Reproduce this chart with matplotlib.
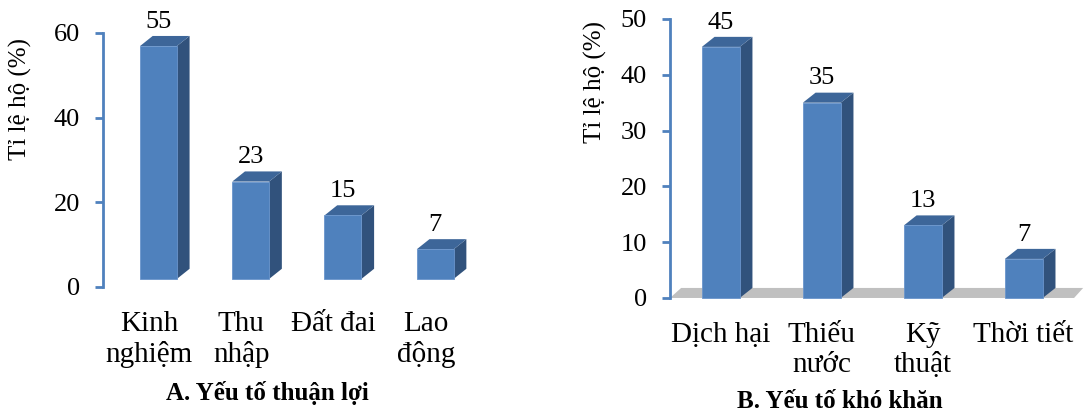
"""
Bar charts of factors affecting households: favourable (A) and difficult (B).
Bars are drawn as pseudo-3D blocks (front, side and top faces).
"""
from matplotlib import pyplot as plt
from matplotlib.patches import Polygon

FS = 19        # ticks and value labels
FS_CAT = 21    # category names
FS_TITLE = 18  # axis titles
plt.rcParams['font.family'] = ['Liberation Serif', 'DejaVu Serif']
plt.rcParams['font.size'] = FS

LABELS_A = ["Kinh\nnghiệm", "Thu\nnhập", "Đất đai", "Lao\nđộng"]
VALUES_A = [55, 23, 15, 7]
TICKS_A = [0, 20, 40, 60]

LABELS_B = ["Dịch hại", "Thiếu\nnước", "Kỹ\nthuật", "Thời tiết"]
VALUES_B = [45, 35, 13, 7]
TICKS_B = [0, 10, 20, 30, 40, 50]

FRONT = '#4F81BD'
SIDE = '#31527C'
TOP = '#3D6699'
AXIS = '#4F81BD'


def draw_bars(ax, values, left, width, base, dx, dy):
    """Draw one block per value; front face from base to base + value."""
    for i, v in enumerate(values):
        x0 = i + left
        x1 = x0 + width
        y1 = base + v
        side = [(x1, base), (x1 + dx, base + dy), (x1 + dx, y1 + dy), (x1, y1)]
        top = [(x0, y1), (x1, y1), (x1 + dx, y1 + dy), (x0 + dx, y1 + dy)]
        front = [(x0, base), (x1, base), (x1, y1), (x0, y1)]
        ax.add_patch(Polygon(side, closed=True, facecolor=SIDE, edgecolor='none',
                             clip_on=False, zorder=3))
        ax.add_patch(Polygon(top, closed=True, facecolor=TOP, edgecolor='none',
                             clip_on=False, zorder=3))
        ax.add_patch(Polygon(front, closed=True, facecolor=FRONT, edgecolor='#6A95CC',
                             linewidth=0.6, clip_on=False, zorder=4))
        ax.annotate(str(v), (x0 + width / 2, y1 + dy), xytext=(0, 6),
                    textcoords='offset points', ha='center', va='baseline',
                    fontsize=FS, annotation_clip=False)


def style_axis(ax, labels, ticks):
    ax.set_xlim(-0.5, len(labels) - 0.5)
    ax.set_ylim(ticks[0], ticks[-1])
    ax.set_yticks(ticks)
    ax.set_xticks(range(len(labels)))
    ax.set_xticklabels(labels, linespacing=1.2)
    for side in ['top', 'right', 'bottom']:
        ax.spines[side].set_visible(False)
    ax.spines['left'].set_color(AXIS)
    ax.spines['left'].set_linewidth(2)
    ax.tick_params(axis='y', direction='out', length=5.5, width=2, color=AXIS,
                   pad=11, labelsize=FS)
    ax.tick_params(axis='x', length=0, pad=17, labelsize=FS_CAT)


fig = plt.figure(figsize=(10.87, 4.13), dpi=100)

# A. favourable factors
ax1 = fig.add_axes([0.0948, 0.3051, 0.3395, 0.615])
style_axis(ax1, LABELS_A, TICKS_A)
draw_bars(ax1, VALUES_A, left=-0.1, width=0.40, base=1.9, dx=0.138, dy=2.4)

# B. difficulties, with a grey floor under the bars
ax2 = fig.add_axes([0.6164, 0.2785, 0.3717, 0.6755])
style_axis(ax2, LABELS_B, TICKS_B)
floor = [(-0.5, 0), (3.5, 0), (3.5 + 0.09, 1.8), (-0.5 + 0.11, 1.8)]
ax2.add_patch(Polygon(floor, closed=True, facecolor='#C0C0C0', edgecolor='none',
                      clip_on=False, zorder=2))
draw_bars(ax2, VALUES_B, left=-0.185, width=0.375, base=0, dx=0.126, dy=1.8)

fig.text(20 / 1087, 1 - 99 / 413, "Tỉ lệ hộ (%)", rotation=90,
         ha='center', va='center', fontsize=FS_TITLE)
fig.text(595 / 1087, 1 - 82 / 413, "Tỉ lệ hộ (%)", rotation=90,
         ha='center', va='center', fontsize=FS_TITLE)
fig.text(267 / 1087, 1 - 393 / 413, "A. Yếu tố thuận lợi", ha='center',
         va='center', fontsize=FS_TITLE, fontweight='bold')
fig.text(840 / 1087, 1 - 402 / 413, "B. Yếu tố khó khăn", ha='center',
         va='center', fontsize=FS_TITLE, fontweight='bold')

plt.savefig("out.png", dpi=100)
